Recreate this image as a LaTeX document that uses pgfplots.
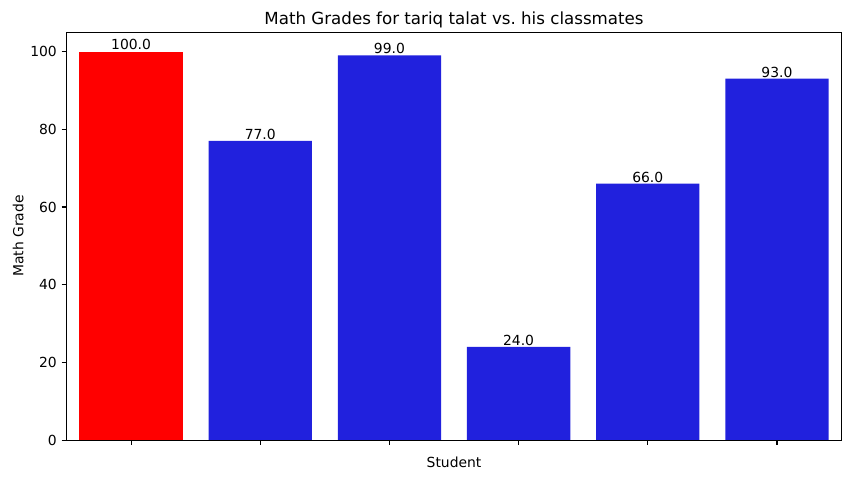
\documentclass[border=0pt]{standalone}
\usepackage{fontspec}
\setmainfont{DejaVu Sans}
\usepackage{pgfplots}
\pgfplotsset{compat=1.18}
\definecolor{barblue}{HTML}{2121DD}
\definecolor{barred}{HTML}{FF0000}
\begin{document}
\fontsize{10pt}{12pt}\selectfont
\begin{tikzpicture}
    \begin{axis}[
        scale only axis,
        width=558pt,
        height=293.8pt,
        xmin=-0.5, xmax=5.5,
        ymin=0, ymax=105,
        xtick={0,1,2,3,4,5},
        xticklabels={},
        ytick={0,20,40,60,80,100},
        ybar,
        bar width=0.8,
        bar shift=0pt,
        xlabel={Student},
        ylabel={Math Grade},
        title={Math Grades for tariq talat vs.\ his classmates},
        title style={font=\fontsize{12pt}{14pt}\selectfont, yshift=-6.5pt},
        label style={font=\fontsize{10pt}{12pt}\selectfont},
        tick label style={font=\fontsize{10pt}{12pt}\selectfont},
        /pgf/number format/assume math mode=true,
        axis line style={line width=0.8pt},
        tick style={black, line width=0.8pt},
        tick align=outside,
        major tick length=3.5pt,
        xtick pos=bottom, ytick pos=left,
        axis on top,
        nodes near coords,
        nodes near coords style={font=\fontsize{10pt}{12pt}\selectfont, anchor=south, inner sep=0pt, outer sep=0pt, yshift=1pt,
            /pgf/number format/.cd, fixed, fixed zerofill, precision=1, assume math mode=true},
        xlabel style={yshift=2pt},
        ylabel style={yshift=-2pt},
    ]
        \addplot[fill=barred, draw=none] coordinates {(0,100)};
        \addplot[fill=barblue, draw=none] coordinates {
            (1,77) (2,99) (3,24) (4,66) (5,93)
        };
    \end{axis}
    \path[use as bounding box] (-47.9pt,-27.7pt) rectangle (564.1pt,316.9pt);
\end{tikzpicture}
\end{document}
